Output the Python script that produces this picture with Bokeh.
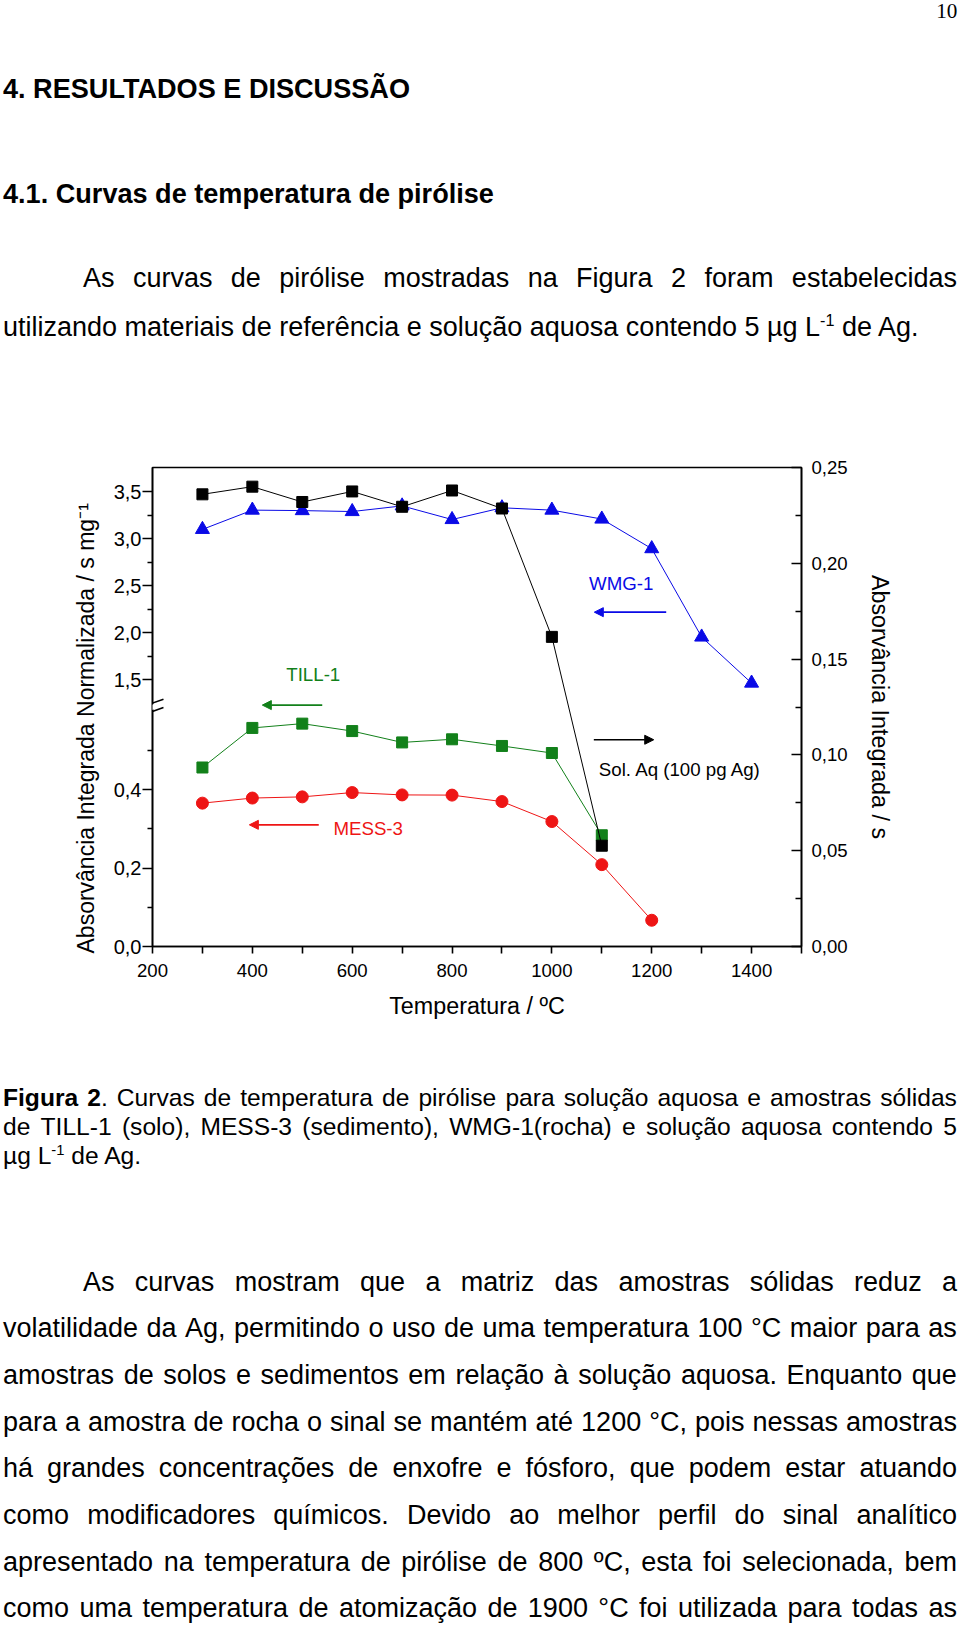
from bokeh.plotting import figure
from bokeh.models import Range1d, LinearAxis, FixedTicker, Label, Arrow, NormalHead, Div, Title
from bokeh.layouts import column
from bokeh.embed import file_html
from bokeh.resources import INLINE

# ---------------- data ----------------
sol_aq_temp = [300, 400, 500, 600, 700, 800, 900, 1000, 1100]
sol_aq_abs = [0.236, 0.240, 0.232, 0.2375, 0.2295, 0.238, 0.2286, 0.1616, 0.0526]

wmg1_temp = [300, 400, 500, 600, 700, 800, 900, 1000, 1100, 1200, 1300, 1400]
wmg1_abs = [3.10, 3.305, 3.30, 3.29, 3.35, 3.205, 3.33, 3.305, 3.21, 2.895, 1.955, 1.465]

till1_temp = [300, 400, 500, 600, 700, 800, 900, 1000, 1100]
till1_abs = [0.457, 0.558, 0.569, 0.550, 0.521, 0.529, 0.512, 0.494, 0.284]

mess3_temp = [300, 400, 500, 600, 700, 800, 900, 1000, 1100, 1200]
mess3_abs = [0.366, 0.379, 0.382, 0.393, 0.387, 0.3865, 0.370, 0.319, 0.209, 0.067]

x_ticks = [200, 400, 600, 800, 1000, 1200, 1400]
x_minor = [300, 500, 700, 900, 1100, 1300, 1500]
left_low_ticks = [0.0, 0.2, 0.4]
left_low_labels = ["0,0", "0,2", "0,4"]
left_low_minor = [0.1, 0.3, 0.5]
left_high_ticks = [1.5, 2.0, 2.5, 3.0, 3.5]
left_high_labels = ["1,5", "2,0", "2,5", "3,0", "3,5"]
left_high_minor = [1.75, 2.25, 2.75, 3.25]
right_ticks = [0.0, 0.05, 0.10, 0.15, 0.20, 0.25]
right_labels = ["0,00", "0,05", "0,10", "0,15", "0,20", "0,25"]
right_minor = [0.025, 0.075, 0.125, 0.175, 0.225]

# ---------------- axis ranges (broken left axis) ----------------
X_RANGE = (200, 1500)
RIGHT_RANGE = (0.0, 0.25)
LOW_RANGE = (0.0, 1.2229)
HIGH_RANGE = (-1.3372, 3.7585)


def high_to_low(v):
    f = (v - HIGH_RANGE[0]) / (HIGH_RANGE[1] - HIGH_RANGE[0])
    return round(LOW_RANGE[0] + f * (LOW_RANGE[1] - LOW_RANGE[0]), 6)


BLACK = "#000000"
BLUE = "#0a0ae6"
GREEN = "#12801a"
RED = "#ee1515"
FONT = "Liberation Sans"

p = figure(width=960, height=620,
           x_range=Range1d(*X_RANGE), y_range=Range1d(*RIGHT_RANGE),
           y_axis_location="right", output_backend="svg", toolbar_location=None,
           min_border_left=152, min_border_right=159, min_border_top=47, min_border_bottom=94)
p.extra_y_ranges = {"low": Range1d(*LOW_RANGE), "high": Range1d(*HIGH_RANGE)}
p.xgrid.visible = False
p.ygrid.visible = False
p.background_fill_color = "white"
p.border_fill_color = "white"
p.outline_line_color = "black"
p.outline_line_width = 1.6

# series
p.line(mess3_temp, mess3_abs, color=RED, line_width=1, y_range_name="low")
p.scatter(mess3_temp, mess3_abs, marker="circle", size=12, fill_color=RED, line_color=RED, y_range_name="low")

p.line(wmg1_temp, wmg1_abs, color=BLUE, line_width=1, y_range_name="high")
p.scatter(wmg1_temp, wmg1_abs, marker="triangle", size=14, fill_color=BLUE, line_color=BLUE, y_range_name="high")

p.line(till1_temp, till1_abs, color=GREEN, line_width=1, y_range_name="low")
p.scatter(till1_temp, till1_abs, marker="square", size=11, fill_color=GREEN, line_color=GREEN, y_range_name="low")

p.line(sol_aq_temp, sol_aq_abs, color=BLACK, line_width=1)
p.scatter(sol_aq_temp, sol_aq_abs, marker="square", size=11, fill_color=BLACK, line_color=BLACK)

# bottom axis
xa = p.xaxis[0]
xa.ticker = FixedTicker(ticks=x_ticks, minor_ticks=x_minor)
xa.axis_line_width = 1.6
xa.major_tick_in = 0
xa.major_tick_out = 7
xa.minor_tick_in = 0
xa.minor_tick_out = 7
xa.major_tick_line_width = 1.6
xa.minor_tick_line_width = 1.6
xa.major_label_standoff = 10
xa.major_label_text_font = FONT
xa.major_label_text_font_size = "18.6px"
xa.major_label_text_color = "black"
xa.axis_label = "Temperatura / ºC"
xa.axis_label_text_font = FONT
xa.axis_label_text_font_size = "23.3px"
xa.axis_label_text_font_style = "normal"
xa.axis_label_text_color = "black"
xa.axis_label_standoff = 13

# right axis (Sol. Aq)
ra = p.yaxis[0]
ra.ticker = FixedTicker(ticks=right_ticks, minor_ticks=right_minor)
ra.major_label_overrides = dict(zip(right_ticks, right_labels))
ra.axis_line_width = 1.6
ra.major_tick_in = 10
ra.major_tick_out = 0
ra.minor_tick_in = 6
ra.minor_tick_out = 0
ra.major_tick_line_width = 1.6
ra.minor_tick_line_width = 1.6
ra.major_label_standoff = 10
ra.major_label_text_font = FONT
ra.major_label_text_font_size = "18.6px"
ra.major_label_text_color = "black"
ra.axis_label = "Absorvância Integrada / s"
ra.axis_label_text_font = FONT
ra.axis_label_text_font_size = "23.3px"
ra.axis_label_text_font_style = "normal"
ra.axis_label_text_color = "black"
ra.axis_label_standoff = 16

# left broken axis: lower segment (TILL-1, MESS-3) + upper segment (WMG-1)
high_pos = [high_to_low(v) for v in left_high_ticks]
high_minor_pos = [high_to_low(v) for v in left_high_minor]
la = LinearAxis(y_range_name="low",
                ticker=FixedTicker(ticks=left_low_ticks + high_pos,
                                   minor_ticks=left_low_minor + high_minor_pos))
la.major_label_overrides = dict(zip(left_low_ticks + high_pos, left_low_labels + left_high_labels))
la.axis_line_width = 1.6
la.major_tick_in = 0
la.major_tick_out = 10
la.minor_tick_in = 0
la.minor_tick_out = 5
la.major_tick_line_width = 1.6
la.minor_tick_line_width = 1.6
la.major_label_standoff = 1
la.major_label_text_font = FONT
la.major_label_text_font_size = "20px"
la.major_label_text_color = "black"
p.add_layout(la, "left")

# left axis title (side panel title, starts just below the frame bottom)
left_title = Title(text="Absorvância Integrada Normalizada / s mg⁻¹", align="left", offset=-7,
                   standoff=24, text_font=FONT, text_font_size="23px",
                   text_font_style="normal", text_color="black")
p.add_layout(left_title, "left")

# axis break marks
p.add_layout(Arrow(end=None, x_start=189.4, y_start=0.12396, x_end=211.4, y_end=0.12599,
                   line_color="white", line_width=5))
p.add_layout(Arrow(end=None, x_start=178.8, y_start=0.1251, x_end=222.0, y_end=0.1291,
                   line_color="black", line_width=1.6))
p.add_layout(Arrow(end=None, x_start=178.8, y_start=0.1208, x_end=222.0, y_end=0.1247,
                   line_color="black", line_width=1.6))


# series annotations
def add_note(text, x, y, color, align="center"):
    p.add_layout(Label(x=x, y=y, text=text, text_align=align, text_baseline="middle",
                       text_font=FONT, text_font_size="18.7px", text_color=color))


def add_arrow(x0, x1, y, color):
    p.add_layout(Arrow(end=NormalHead(size=9, fill_color=color, line_color=color),
                       x_start=x0, y_start=y, x_end=x1, y_end=y,
                       line_color=color, line_width=1.6))


add_note("TILL-1", 522, 0.1418, GREEN)
add_arrow(540, 420, 0.126, GREEN)
add_note("WMG-1", 1139, 0.1893, BLUE)
add_arrow(1229, 1085, 0.1745, BLUE)
add_arrow(1084, 1204, 0.1079, BLACK)
add_note("Sol. Aq (100 pg Ag)", 1094, 0.0926, BLACK, align="left")
add_note("MESS-3", 632, 0.0618, RED)
add_arrow(533, 394, 0.0635, RED)

# ---------------- page text ----------------
SANS = "'Liberation Sans', Arial, Helvetica, sans-serif"
SERIF = "'Liberation Serif', 'Times New Roman', serif"


def text_line(html, baseline, fs, left=3.0, width=None, bold=False, serif=False, right=None):
    asc = 0.8375 if serif else 0.8465
    top = baseline - asc * fs
    fam = SERIF if serif else SANS
    style = (f"position:absolute;top:{top:.2f}px;font-family:{fam};font-size:{fs}px;"
             f"line-height:{fs}px;white-space:nowrap;color:#000;margin:0;padding:0;")
    if bold:
        style += "font-weight:bold;"
    if right is not None:
        style += f"right:{right}px;"
    else:
        style += f"left:{left}px;"
    if width is not None:
        style += f"width:{width}px;display:flex;justify-content:space-between;"
        inner = "".join(f"<span>{w}</span>" for w in html.split(" "))
    else:
        inner = html
    return f'<div style="{style}">{inner}</div>'


SUP = '<span style="font-size:60%;position:relative;top:-0.6em;">-1</span>'
HEAD = 27.1
BODY = 27.0
CAP = 24.6
R_EDGE = 957.0

top_parts = [
    text_line("10", 18.3, 21.2, serif=True, right=2.7),
    text_line("4. RESULTADOS E DISCUSSÃO", 97.5, HEAD, bold=True),
    text_line("4.1. Curvas de temperatura de pirólise", 203.0, HEAD, bold=True),
    text_line("As curvas de pirólise mostradas na Figura 2 foram estabelecidas", 288.0, BODY,
              left=83.0, width=R_EDGE - 83.0),
    text_line(f"utilizando materiais de referência e solução aquosa contendo 5 µg L{SUP} de Ag.",
              337.0, BODY),
]
top_div = Div(text='<div style="position:relative;width:960px;height:420px;">' + "".join(top_parts) + "</div>",
              width=960, height=420, margin=(0, 0, 0, 0))

OFF = 1040.0
body_lines = [
    "As curvas mostram que a matriz das amostras sólidas reduz a",
    "volatilidade da Ag, permitindo o uso de uma temperatura 100 °C maior para as",
    "amostras de solos e sedimentos em relação à solução aquosa. Enquanto que",
    "para a amostra de rocha o sinal se mantém até 1200 °C, pois nessas amostras",
    "há grandes concentrações de enxofre e fósforo, que podem estar atuando",
    "como modificadores químicos. Devido ao melhor perfil do sinal analítico",
    "apresentado na temperatura de pirólise de 800 ºC, esta foi selecionada, bem",
    "como uma temperatura de atomização de 1900 °C foi utilizada para todas as",
]
bot_parts = [
    text_line("<b>Figura</b> <b>2</b>. Curvas de temperatura de pirólise para solução aquosa e amostras sólidas",
              1107.0 - OFF, CAP, width=R_EDGE - 3.0),
    text_line("de TILL-1 (solo), MESS-3 (sedimento), WMG-1(rocha) e solução aquosa contendo 5",
              1136.0 - OFF, CAP, width=R_EDGE - 3.0),
    text_line(f"µg L{SUP} de Ag.", 1165.0 - OFF, CAP),
]
for i, line in enumerate(body_lines):
    left = 83.0 if i == 0 else 3.0
    bot_parts.append(text_line(line, 1291.7 + 46.65 * i - OFF, BODY, left=left, width=R_EDGE - left))
bot_div = Div(text='<div style="position:relative;width:960px;height:586px;">' + "".join(bot_parts) + "</div>",
              width=960, height=586, margin=(0, 0, 0, 0))

layout = column(top_div, p, bot_div, spacing=0)
open("out.html", "w").write(file_html(layout, INLINE))
